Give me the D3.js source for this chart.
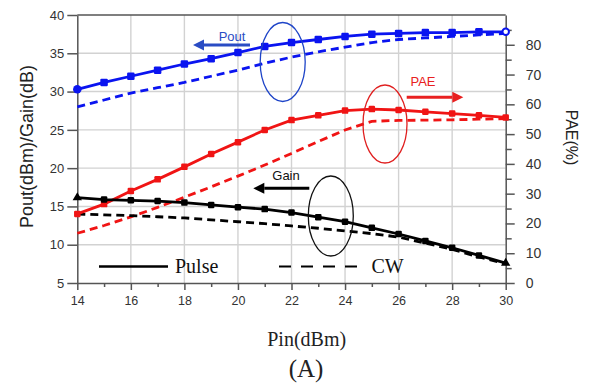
<!DOCTYPE html>
<html>
<head>
<meta charset="utf-8">
<script src="https://cdn.jsdelivr.net/npm/d3@7/dist/d3.min.js"></script>
<style>
  html, body { margin: 0; padding: 0; background: #fff; }
  svg { display: block; }
</style>
</head>
<body>
<svg id="chart" width="589" height="383"></svg>
<script>
// Input drive level (dBm)
const pin = [14, 15, 16, 17, 18, 19, 20, 21, 22, 23, 24, 25, 26, 27, 28, 29, 30];

// Output power (dBm), left axis
const poutPulse = [30.3, 31.2, 32.0, 32.8, 33.6, 34.3, 35.1, 35.9, 36.4, 36.8, 37.2, 37.5, 37.6, 37.7, 37.7, 37.8, 37.8];
const poutCW    = [28.0, 28.9, 29.8, 30.5, 31.2, 32.0, 32.8, 33.7, 34.5, 35.2, 35.8, 36.4, 36.8, 37.0, 37.2, 37.4, 37.6];

// Gain (dB), left axis
const gainPulse = [16.15, 15.9, 15.8, 15.7, 15.5, 15.2, 14.9, 14.65, 14.2, 13.6, 13.0, 12.2, 11.4, 10.5, 9.6, 8.6, 7.6];
const gainCW    = [14.0, 13.9, 13.8, 13.65, 13.5, 13.25, 13.0, 12.75, 12.45, 12.15, 11.8, 11.45, 11.0, 10.2, 9.4, 8.4, 7.5];

// Power-added efficiency (%), right axis
const paePulse = [23.2, 26.5, 30.9, 34.8, 39.0, 43.3, 47.3, 51.4, 54.7, 56.3, 57.9, 58.4, 58.1, 57.5, 56.9, 56.3, 55.6];
const paeCW    = [16.7, 19.3, 22.2, 25.4, 28.8, 32.3, 35.9, 39.6, 43.5, 47.5, 51.4, 54.3, 54.6, 54.7, 54.8, 55.0, 55.2];

// Axis ticks
const xTicks = [14, 16, 18, 20, 22, 24, 26, 28, 30];
const xMinor = [15, 17, 19, 21, 23, 25, 27, 29];
const leftTicks = [5, 10, 15, 20, 25, 30, 35, 40];
const rightTicks = [0, 10, 20, 30, 40, 50, 60, 70, 80];
const rightMinor = [5, 15, 25, 35, 45, 55, 65, 75, 85];

const svg = d3.select("#chart");
const L = 77.3, R = 505.7, T = 15, B = 283;

const x = d3.scaleLinear().domain([14, 30]).range([L, R]);
const yL = d3.scaleLinear().domain([5, 40]).range([B, T]);
const yR = d3.scaleLinear().domain([0, 90]).range([B, T]);

const sans = "'Liberation Sans', Arial, sans-serif";
const serif = "'Liberation Serif', 'Times New Roman', serif";
const axisColor = "#555";
const BLUE = "#0a14f0", RED = "#f01414", BLACK = "#000";

// Grid
const grid = svg.append("g");
grid.selectAll(".gx").data(xTicks.slice(1, -1)).join("line")
  .attr("x1", d => x(d)).attr("x2", d => x(d)).attr("y1", T).attr("y2", B)
  .attr("stroke", "#d2d2d2").attr("stroke-width", 1.4);
grid.selectAll(".gy").data(leftTicks.slice(1, -1)).join("line")
  .attr("x1", L).attr("x2", R).attr("y1", d => yL(d)).attr("y2", d => yL(d))
  .attr("stroke", "#d2d2d2").attr("stroke-width", 1.4);

// Axes
function styleAxis(g) {
  g.selectAll("path, line").attr("stroke", axisColor).attr("stroke-width", 1.5);
  g.selectAll("text").attr("fill", "#333").attr("font-family", sans);
}
svg.append("g").attr("transform", `translate(0,${B})`)
  .call(d3.axisBottom(x).tickValues(xTicks).tickSize(7).tickSizeOuter(0).tickPadding(6).tickFormat(d3.format("d")))
  .call(styleAxis).call(g => g.selectAll("text").attr("font-size", 12.5));
svg.append("g").attr("transform", `translate(0,${B})`)
  .call(d3.axisBottom(x).tickValues(xMinor).tickSize(4).tickSizeOuter(0).tickFormat(""))
  .call(styleAxis).call(g => g.select(".domain").remove());

svg.append("g").attr("transform", `translate(${L},0)`)
  .call(d3.axisLeft(yL).tickValues(leftTicks).tickSize(10).tickSizeOuter(0).tickPadding(3))
  .call(styleAxis).call(g => g.selectAll("text").attr("font-size", 13));

svg.append("g").attr("transform", `translate(${R},0)`)
  .call(d3.axisRight(yR).tickValues(rightTicks).tickSize(9).tickSizeOuter(0).tickPadding(11))
  .call(styleAxis).call(g => g.selectAll("text").attr("font-size", 14));
svg.append("g").attr("transform", `translate(${R},0)`)
  .call(d3.axisRight(yR).tickValues(rightMinor).tickSize(6).tickSizeOuter(0).tickFormat(""))
  .call(styleAxis).call(g => g.select(".domain").remove());

// Top frame line
svg.append("line").attr("x1", L).attr("x2", R).attr("y1", T).attr("y2", T)
  .attr("stroke", axisColor).attr("stroke-width", 1.5);

// Series
function series(values, yScale, color, dashed) {
  const line = d3.line().x((d, i) => x(pin[i])).y(d => yScale(d));
  svg.append("path").datum(values).attr("d", line)
    .attr("fill", "none").attr("stroke", color).attr("stroke-width", 2.8)
    .attr("stroke-dasharray", dashed ? "8,5" : null);
}
function markers(values, yScale, color, size, firstShape, lastShape) {
  const g = svg.append("g");
  values.forEach((v, i) => {
    const cx = x(pin[i]), cy = yScale(v);
    const shape = i === 0 ? firstShape : (i === values.length - 1 ? lastShape : "square");
    if (shape === "square") {
      g.append("rect").attr("x", cx - size / 2).attr("y", cy - size / 2)
        .attr("width", size).attr("height", size).attr("rx", 1.2).attr("fill", color);
    } else if (shape === "circle") {
      g.append("circle").attr("cx", cx).attr("cy", cy).attr("r", size / 2 + 0.5).attr("fill", color);
    } else if (shape === "open") {
      g.append("circle").attr("cx", cx).attr("cy", cy).attr("r", size / 2 - 0.5)
        .attr("fill", "#fff").attr("stroke", color).attr("stroke-width", 2);
    } else if (shape === "triangle") {
      g.append("path").attr("d", d3.symbol(d3.symbolTriangle, size * size * 0.9)())
        .attr("transform", `translate(${cx},${cy})`).attr("fill", color);
    }
  });
}

series(poutCW, yL, BLUE, true);
series(paeCW, yR, RED, true);
series(gainCW, yL, BLACK, true);
series(poutPulse, yL, BLUE, false);
series(paePulse, yR, RED, false);
series(gainPulse, yL, BLACK, false);
markers(poutPulse, yL, BLUE, 7.5, "circle", "open");
markers(paePulse, yR, RED, 6.5, "square", "square");
markers(gainPulse, yL, BLACK, 6.5, "triangle", "triangle");

// Group ellipses
const ell = [
  { cx: 282.7, cy: 62, rx: 22.5, ry: 39.5, c: "#1e44c8" },
  { cx: 385, cy: 124, rx: 22, ry: 39, c: "#e02020" },
  { cx: 330.8, cy: 216, rx: 22.5, ry: 40, c: "#111" }
];
svg.selectAll(".ell").data(ell).join("ellipse")
  .attr("cx", d => d.cx).attr("cy", d => d.cy).attr("rx", d => d.rx).attr("ry", d => d.ry)
  .attr("fill", "none").attr("stroke", d => d.c).attr("stroke-width", 1.3);

// Axis-direction arrows with labels
function arrow(x1, x2, y, color) {
  const dir = Math.sign(x2 - x1);
  const headLen = 11, headHalf = 5.5;
  svg.append("line").attr("x1", x1).attr("x2", x2 - dir * headLen).attr("y1", y).attr("y2", y)
    .attr("stroke", color).attr("stroke-width", 3);
  svg.append("path")
    .attr("d", `M${x2},${y} L${x2 - dir * headLen},${y - headHalf} L${x2 - dir * headLen},${y + headHalf} Z`)
    .attr("fill", color);
}
arrow(250, 193, 45, "#2a4cc4");
svg.append("text").attr("x", 232).attr("y", 41).attr("text-anchor", "middle")
  .attr("font-family", sans).attr("font-size", 13).attr("fill", "#2a4cc4").text("Pout");
arrow(406.7, 463.3, 97.3, "#e82020");
svg.append("text").attr("x", 423).attr("y", 85.5).attr("text-anchor", "middle")
  .attr("font-family", sans).attr("font-size", 13).attr("fill", "#e82020").text("PAE");
arrow(309.3, 253.3, 188.3, "#000");
svg.append("text").attr("x", 286).attr("y", 180).attr("text-anchor", "middle")
  .attr("font-family", sans).attr("font-size", 13).attr("fill", "#111").text("Gain");

// Legend
svg.append("line").attr("x1", 99).attr("x2", 168).attr("y1", 266.5).attr("y2", 266.5)
  .attr("stroke", "#000").attr("stroke-width", 2.6);
svg.append("text").attr("x", 175).attr("y", 272.5).attr("font-family", serif)
  .attr("font-size", 20).attr("fill", "#111").text("Pulse");
svg.append("line").attr("x1", 279).attr("x2", 360).attr("y1", 266.5).attr("y2", 266.5)
  .attr("stroke", "#000").attr("stroke-width", 2).attr("stroke-dasharray", "12,10");
svg.append("text").attr("x", 371.5).attr("y", 272.5).attr("font-family", serif)
  .attr("font-size", 20).attr("fill", "#111").text("CW");

// Axis titles
svg.append("text").attr("transform", "translate(33,146.5) rotate(-90)")
  .attr("text-anchor", "middle").attr("font-family", sans).attr("font-size", 18)
  .attr("fill", "#222").text("Pout(dBm)/Gain(dB)");
svg.append("text").attr("transform", "translate(566,137.5) rotate(90)")
  .attr("text-anchor", "middle").attr("font-family", sans).attr("font-size", 16)
  .attr("fill", "#222").text("PAE(%)");
svg.append("text").attr("x", 306.7).attr("y", 346).attr("text-anchor", "middle")
  .attr("font-family", serif).attr("font-size", 20).attr("fill", "#222").text("Pin(dBm)");
svg.append("text").attr("x", 306).attr("y", 377).attr("text-anchor", "middle")
  .attr("font-family", serif).attr("font-size", 25).attr("fill", "#222").text("(A)");
</script>
</body>
</html>
